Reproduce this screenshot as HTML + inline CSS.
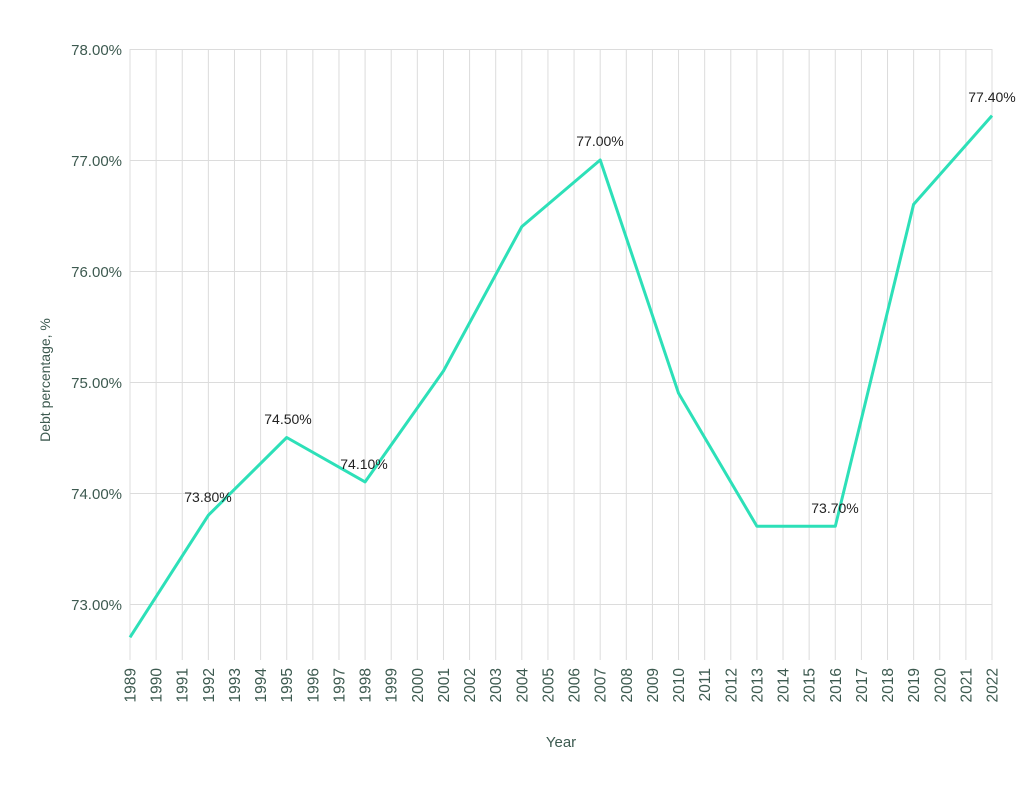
<!DOCTYPE html>
<html><head><style>body{margin:0;background:#fff}svg{display:block}</style></head><body>
<svg width="1024" height="792" xmlns="http://www.w3.org/2000/svg" font-family="Liberation Sans, sans-serif">
<g stroke="#dcdcdc" stroke-width="1">
<line x1="130" y1="49.5" x2="992" y2="49.5"/><line x1="130" y1="160.5" x2="992" y2="160.5"/><line x1="130" y1="271.5" x2="992" y2="271.5"/><line x1="130" y1="382.5" x2="992" y2="382.5"/><line x1="130" y1="493.5" x2="992" y2="493.5"/><line x1="130" y1="604.5" x2="992" y2="604.5"/>
</g>
<g id="vl" stroke="#dcdcdc"></g>
<g id="xl" fill="#3d5a50" font-size="15.5"></g>
<g fill="#3d5a50" font-size="15" text-anchor="end">
<text x="122" y="55">78.00%</text><text x="122" y="166">77.00%</text><text x="122" y="277">76.00%</text><text x="122" y="388">75.00%</text><text x="122" y="499">74.00%</text><text x="122" y="610">73.00%</text>
</g>
<text transform="translate(50,380) rotate(-90)" text-anchor="middle" fill="#3d5a50" font-size="14">Debt percentage, %</text>
<text x="561" y="747" text-anchor="middle" fill="#3d5a50" font-size="15">Year</text>
<polyline fill="none" stroke="#2de0b8" stroke-width="3" stroke-linejoin="round" points="130,637.3 208.4,515.2 286.7,437.5 365.1,481.9 443.5,370.9 521.8,226.6 600.2,160 678.5,393.1 756.9,526.3 835.3,526.3 913.6,204.4 992,115.6"/>
<g font-size="14" fill="#222" text-anchor="middle">
<text x="208" y="502">73.80%</text><text x="288" y="424">74.50%</text><text x="364" y="469">74.10%</text><text x="600" y="146">77.00%</text><text x="835" y="513">73.70%</text><text x="992" y="102">77.40%</text>
</g>
<script>
var vl=document.getElementById('vl'),xl=document.getElementById('xl'),ns='http://www.w3.org/2000/svg';
for(var i=0;i<=33;i++){var x=130+i*862/33;var l=document.createElementNS(ns,'line');l.setAttribute('x1',x);l.setAttribute('x2',x);l.setAttribute('y1',49);l.setAttribute('y2',660);vl.appendChild(l);
var t=document.createElementNS(ns,'text');t.setAttribute('transform','translate('+(x+5.5)+',668) rotate(-90)');t.setAttribute('text-anchor','end');t.textContent=1989+i;xl.appendChild(t);}
</script>
</svg>
</body></html>
